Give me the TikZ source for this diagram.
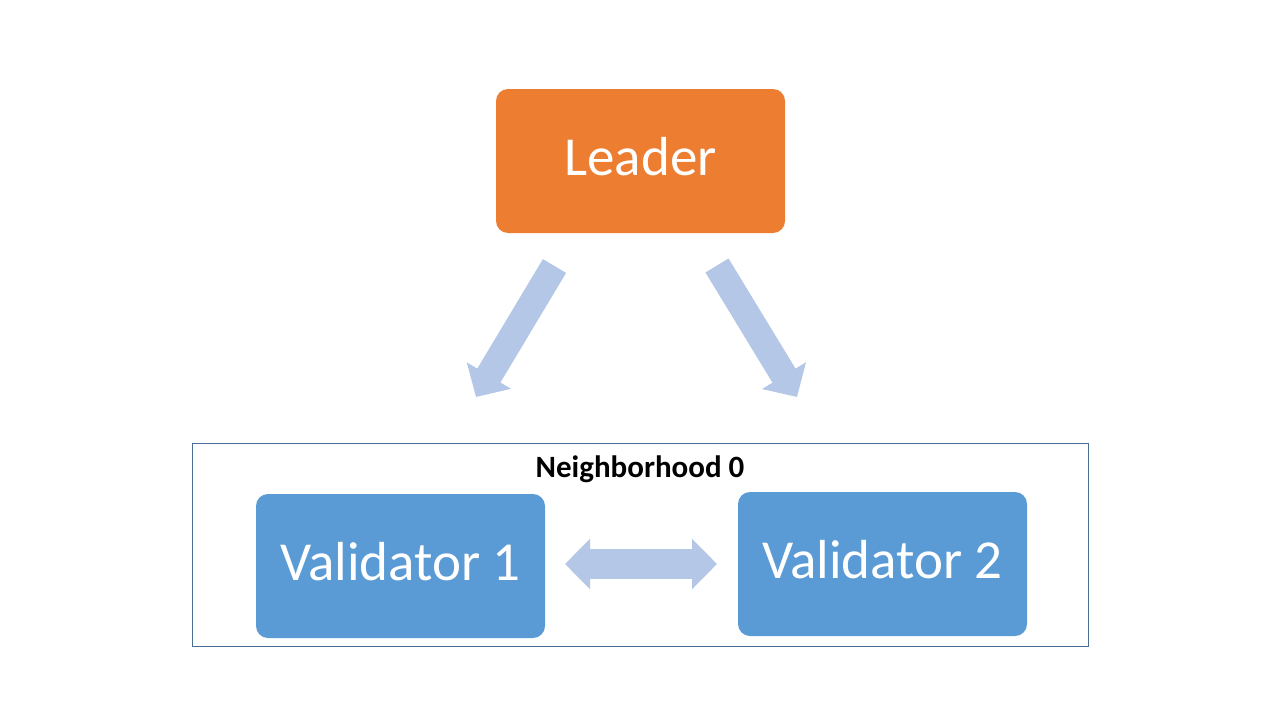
\documentclass[tikz,border=0pt]{standalone}
\usepackage{fontspec}
\setmainfont{Carlito}
\usetikzlibrary{arrows.meta}
\definecolor{leaderorange}{HTML}{ED7D31}
\definecolor{valblue}{HTML}{5B9BD5}
\definecolor{arrowblue}{HTML}{B4C7E7}
\definecolor{hoodline}{HTML}{4A6F92}
\tikzset{
  box/.style={rounded corners=12pt, minimum width=289pt, minimum height=144pt,
    inner sep=0pt, text=white, text height=28pt, text depth=0pt,
    font=\fontsize{55}{60}\selectfont},
  blockarrow/.style={draw=arrowblue, line width=27pt, line cap=butt,
    -{Triangle[width=50pt,length=25pt]}},
  dblarrow/.style={draw=arrowblue, line width=30pt, line cap=butt,
    {Triangle[width=49pt,length=25pt]}-{Triangle[width=49pt,length=25pt]}}
}
\begin{document}
\begin{tikzpicture}[x=1pt,y=-1pt]
\useasboundingbox[fill=white] (0,0) rectangle (1280,720);
\node[draw=hoodline, line width=1pt, minimum width=896pt, minimum height=203pt, inner sep=0pt] (hood) at (640,544.5) {};
\node[font=\bfseries\fontsize{31}{34}\selectfont, inner sep=0pt, anchor=base] (hoodlabel) at (640,477) {Neighborhood 0};
\node[box, fill=leaderorange] (leader) at (640.5,161) {Leader};
\node[box, fill=valblue] (v1) at (400.5,566) {Validator 1};
\node[box, fill=valblue] (v2) at (882.5,564) {Validator 2};
\coordinate (la) at (554.5,266);
\coordinate (lb) at (476,397);
\coordinate (ra) at (717,265.5);
\coordinate (rb) at (797,397);
\coordinate (da) at (565,564);
\coordinate (db) at (717,564);
\draw[blockarrow] (la) -- (lb);
\draw[blockarrow] (ra) -- (rb);
\draw[dblarrow] (da) -- (db);
\end{tikzpicture}
\end{document}
